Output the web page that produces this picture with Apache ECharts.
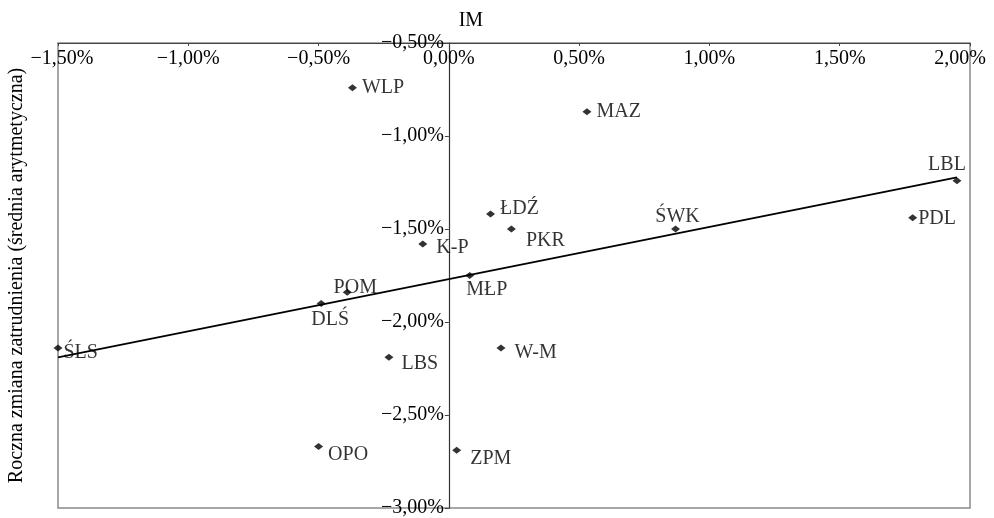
<!DOCTYPE html>
<html>
<head>
<meta charset="utf-8">
<script src="https://cdn.jsdelivr.net/npm/echarts@6/dist/echarts.min.js"></script>
<style>
  html, body { margin: 0; padding: 0; background: #fff; }
  #main { width: 994px; height: 518px; }
</style>
</head>
<body>
<div id="main"></div>
<script>
  // dane: województwa, IM (oś X) i roczna zmiana zatrudnienia (oś Y), w %
  var regions = ['WLP', 'MAZ', 'ŁDŹ', 'PKR', 'K-P', 'MŁP', 'POM', 'DLŚ', 'ŚLS', 'LBS', 'OPO', 'ZPM', 'W-M', 'ŚWK', 'LBL', 'PDL'];
  var imValues = [-0.37, 0.53, 0.16, 0.24, -0.10, 0.08, -0.39, -0.49, -1.50, -0.23, -0.50, 0.03, 0.20, 0.87, 1.95, 1.78];
  var empChange = [-0.74, -0.87, -1.42, -1.50, -1.58, -1.75, -1.84, -1.90, -2.14, -2.19, -2.67, -2.69, -2.14, -1.50, -1.24, -1.44];
  // linia trendu (odczytane końce)
  var trendX = [-1.50, 1.95];
  var trendY = [-2.19, -1.222];
  var xTicks = [-1.5, -1.0, -0.5, 0, 0.5, 1.0, 1.5, 2.0];
  var yTicks = [-3.0, -2.5, -2.0, -1.5, -1.0, -0.5];

  var FONT = "'Liberation Serif', 'Times New Roman', serif";
  var FS = 20;
  var INK = '#000';

  // położenie etykiet punktów
  var labelPos = {
    'WLP': { position: 'right', offset: [0, 0] },
    'MAZ': { position: 'right', offset: [0, 0] },
    'ŁDŹ': { position: 'right', offset: [0, -5] },
    'PKR': { position: 'right', offset: [5, 12] },
    'K-P': { position: 'right', offset: [4, 4] },
    'MŁP': { position: 'bottom', offset: [17, -4] },
    'POM': { position: 'top', offset: [8, 14] },
    'DLŚ': { position: 'bottom', offset: [9, -2] },
    'ŚLS': { position: 'right', offset: [-4, 5] },
    'LBS': { position: 'right', offset: [3, 6] },
    'OPO': { position: 'right', offset: [0, 8] },
    'ZPM': { position: 'right', offset: [4, 8] },
    'W-M': { position: 'right', offset: [4, 5] },
    'ŚWK': { position: 'top', offset: [2, 6] },
    'LBL': { position: 'top', offset: [-10, 3] },
    'PDL': { position: 'right', offset: [-4, 1] }
  };

  function pct(v) {
    var a = Math.abs(v).toFixed(2).replace('.', ',');
    return (v < -1e-9 ? '\u2212' : '') + a + '%';
  }

  var points = regions.map(function (n, i) {
    var lp = labelPos[n];
    return {
      name: n,
      value: [imValues[i], empChange[i]],
      label: { position: lp.position, offset: lp.offset }
    };
  });
  var trend = trendX.map(function (x, i) { return [x, trendY[i]]; });

  var myChart = echarts.init(document.getElementById('main'));
  // oś Y przesunięta do x = 0 (offset liczony od lewej krawędzi siatki)
  var gridLeft = 58, gridRight = 24;
  var plotW = 994 - gridLeft - gridRight;
  var yAxisShift = plotW * (0 - xTicks[0]) / (xTicks[xTicks.length - 1] - xTicks[0]);

  var option = {
    backgroundColor: '#fff',
    animation: false,
    textStyle: { fontFamily: FONT },
    grid: {
      left: gridLeft, right: gridRight, top: 43, bottom: 10,
      outerBoundsMode: 'none', containLabel: false,
      show: true, borderColor: '#8a8a8a', borderWidth: 1.5
    },
    xAxis: {
      type: 'value',
      position: 'top',
      min: xTicks[0], max: xTicks[xTicks.length - 1], interval: 0.5,
      axisLine: { onZero: false, lineStyle: { color: '#444', width: 1.2 } },
      axisTick: { inside: true, length: 3, lineStyle: { color: '#444' } },
      splitLine: { show: false },
      axisLabel: {
        inside: true, margin: 6, color: INK, fontSize: FS, fontFamily: FONT,
        formatter: function (v) {
          if (v === xTicks[0]) return '{first|' + pct(v) + '}';
          if (v === xTicks[xTicks.length - 1]) return '{last|' + pct(v) + '}';
          return pct(v);
        },
        rich: {
          first: { fontSize: FS, fontFamily: FONT, color: INK, padding: [0, 0, 0, 8] },
          last: { fontSize: FS, fontFamily: FONT, color: INK, padding: [0, 20, 0, 0] }
        }
      }
    },
    yAxis: [{
      type: 'value',
      position: 'left',
      offset: -yAxisShift,
      min: yTicks[0], max: yTicks[yTicks.length - 1], interval: 0.5,
      name: 'IM', nameLocation: 'end', nameGap: 12,
      nameTextStyle: { fontSize: FS, fontFamily: FONT, color: INK, padding: [0, 0, 0, 44] },
      axisLine: { show: true, onZero: false, lineStyle: { color: '#333', width: 1.2 } },
      axisTick: { show: true, length: 4, lineStyle: { color: '#444' } },
      splitLine: { show: false },
      axisLabel: { margin: 5, color: INK, fontSize: FS, fontFamily: FONT, formatter: pct }
    }, {
      type: 'value',
      position: 'left',
      min: yTicks[0], max: yTicks[yTicks.length - 1],
      name: 'Roczna zmiana zatrudnienia (średnia arytmetyczna)',
      nameLocation: 'middle', nameGap: 31,
      nameTextStyle: { fontSize: FS, fontFamily: FONT, color: INK },
      axisLine: { show: false }, axisTick: { show: false },
      axisLabel: { show: false }, splitLine: { show: false }
    }],
    series: [{
      type: 'line',
      data: trend,
      symbol: 'none',
      lineStyle: { color: '#000', width: 1.7 },
      z: 2
    }, {
      type: 'scatter',
      data: points,
      symbol: 'diamond',
      symbolSize: [9, 7],
      itemStyle: { color: '#000' },
      label: {
        show: true, formatter: '{b}', distance: 5,
        color: INK, fontSize: FS, fontFamily: FONT
      },
      z: 3
    }]
  };
  myChart.setOption(option);
</script>
</body>
</html>
